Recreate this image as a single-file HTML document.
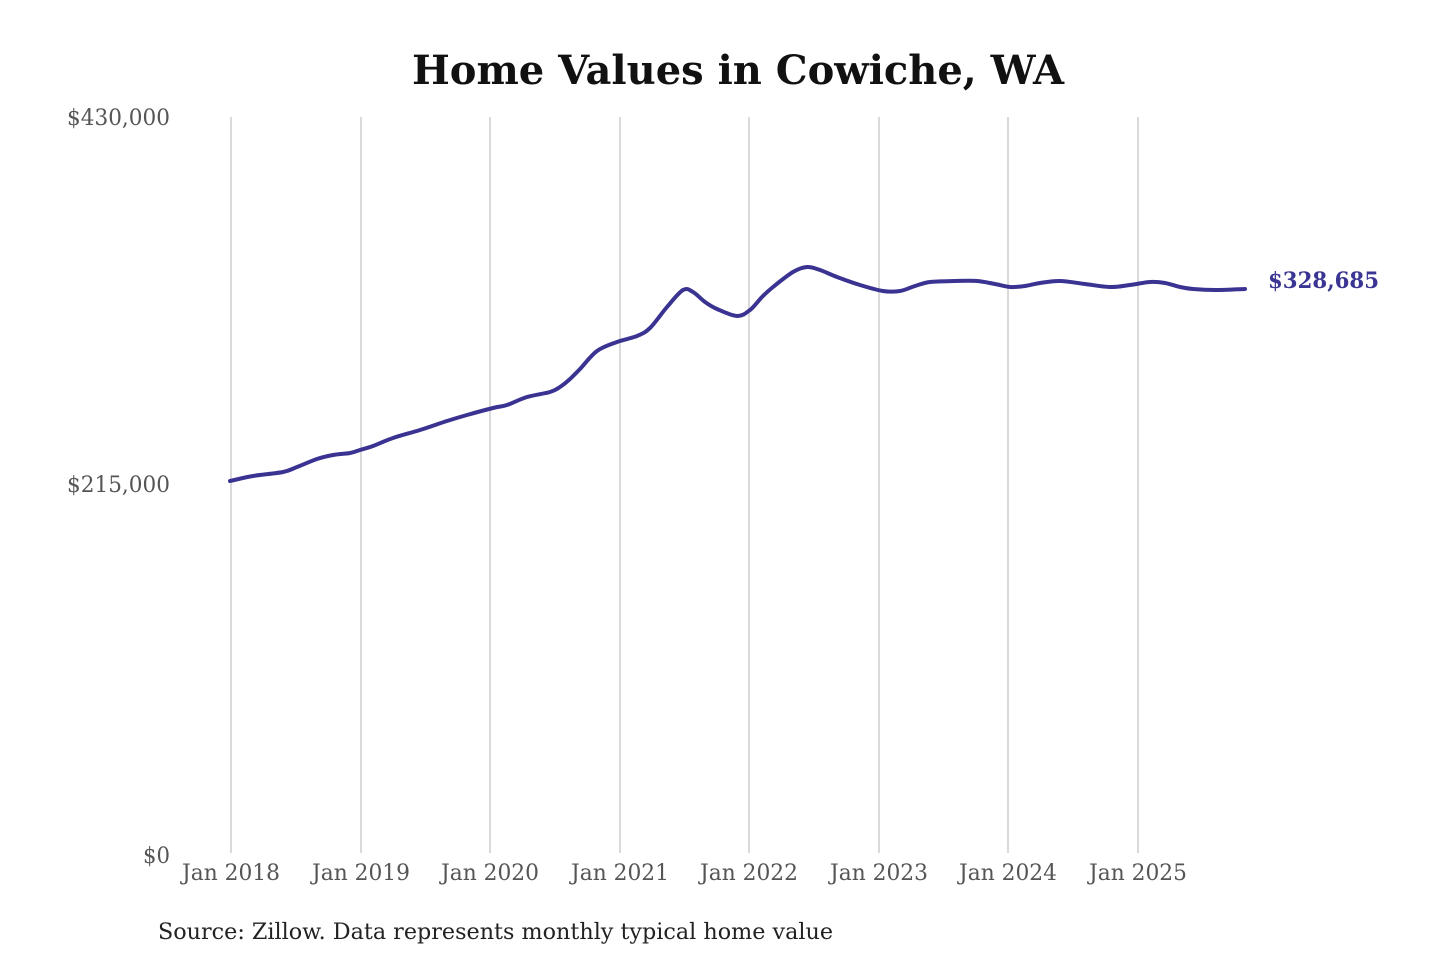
<!DOCTYPE html>
<html>
<head>
<meta charset="utf-8">
<style>
  html, body { margin:0; padding:0; background:#ffffff; }
  svg { display:block; }
</style>
</head>
<body>
<svg id="chart" width="1440" height="960" viewBox="0 0 1440 960" xmlns="http://www.w3.org/2000/svg">
  <rect width="1440" height="960" fill="#ffffff"/>
  <!-- Title -->
  <text x="738" y="84" text-anchor="middle" font-family="'DejaVu Serif', 'Liberation Serif', serif" font-weight="bold" font-size="40" fill="#111" textLength="652" lengthAdjust="spacingAndGlyphs">Home Values in Cowiche, WA</text>

  <!-- Grid lines -->
  <g stroke="#c2c2c2" stroke-width="1.2">
    <line x1="231" y1="117" x2="231" y2="853"/>
    <line x1="361" y1="117" x2="361" y2="853"/>
    <line x1="490" y1="117" x2="490" y2="853"/>
    <line x1="620" y1="117" x2="620" y2="853"/>
    <line x1="749" y1="117" x2="749" y2="853"/>
    <line x1="879" y1="117" x2="879" y2="853"/>
    <line x1="1008" y1="117" x2="1008" y2="853"/>
    <line x1="1138" y1="117" x2="1138" y2="853"/>
  </g>

  <!-- Y labels -->
  <g font-family="'DejaVu Serif', 'Liberation Serif', serif" font-size="22" fill="#555" text-anchor="end">
    <text x="170" y="125" textLength="103" lengthAdjust="spacingAndGlyphs">$430,000</text>
    <text x="170" y="492" textLength="103" lengthAdjust="spacingAndGlyphs">$215,000</text>
    <text x="170" y="863" textLength="27" lengthAdjust="spacingAndGlyphs">$0</text>
  </g>

  <!-- X labels -->
  <g font-family="'DejaVu Serif', 'Liberation Serif', serif" font-size="22" fill="#555" text-anchor="middle">
    <text x="231" y="880" textLength="98" lengthAdjust="spacingAndGlyphs">Jan 2018</text>
    <text x="361" y="880" textLength="98" lengthAdjust="spacingAndGlyphs">Jan 2019</text>
    <text x="490" y="880" textLength="98" lengthAdjust="spacingAndGlyphs">Jan 2020</text>
    <text x="620" y="880" textLength="98" lengthAdjust="spacingAndGlyphs">Jan 2021</text>
    <text x="749" y="880" textLength="98" lengthAdjust="spacingAndGlyphs">Jan 2022</text>
    <text x="879" y="880" textLength="98" lengthAdjust="spacingAndGlyphs">Jan 2023</text>
    <text x="1008" y="880" textLength="98" lengthAdjust="spacingAndGlyphs">Jan 2024</text>
    <text x="1138" y="880" textLength="98" lengthAdjust="spacingAndGlyphs">Jan 2025</text>
  </g>

  <!-- Series -->
  <polyline id="series" fill="none" stroke="#3a3392" stroke-width="4" stroke-linejoin="round" stroke-linecap="round"
    points="230,481 253,476 283,472 297,467 317,459 333,455 350,453 360,450 373,446 393,438 420,430 447,421 467,415 493,408 507,405 527,397 550,392 560,387 570,379 580,369 597,351 617,342 637,336 650,328 667,307 683,290 693,292 705,302 717,309 737,316 750,310 762,297 773,287 793,272 807,267 820,270 837,277 860,285 883,291 900,291 915,286 930,282 955,281 977,281 995,284 1010,287 1025,286 1040,283 1060,281 1085,284 1110,287 1130,285 1150,282 1165,283 1180,287 1193,289 1215,290 1245,289"/>

  <!-- End value label -->
  <text x="1268" y="288" font-family="'DejaVu Serif', 'Liberation Serif', serif" font-weight="bold" font-size="22" fill="#3a3592" textLength="111" lengthAdjust="spacingAndGlyphs">$328,685</text>

  <!-- Source -->
  <text x="158" y="939" font-family="'DejaVu Serif', 'Liberation Serif', serif" font-size="22" fill="#222" textLength="675" lengthAdjust="spacingAndGlyphs">Source: Zillow. Data represents monthly typical home value</text>
</svg>
<script>
(function(){
  var pl = document.getElementById('series');
  var raw = pl.getAttribute('points').trim().split(/\s+/).map(function(s){var a=s.split(',');return [parseFloat(a[0]),parseFloat(a[1])];});
  var d = 'M' + raw[0][0] + ',' + raw[0][1];
  for (var i=0;i<raw.length-1;i++){
    var p0 = raw[i-1]||raw[i], p1 = raw[i], p2 = raw[i+1], p3 = raw[i+2]||raw[i+1];
    var t = 6;
    var c1x = p1[0] + (p2[0]-p0[0])/t, c1y = p1[1] + (p2[1]-p0[1])/t;
    var c2x = p2[0] - (p3[0]-p1[0])/t, c2y = p2[1] - (p3[1]-p1[1])/t;
    d += ' C' + c1x.toFixed(2) + ',' + c1y.toFixed(2) + ' ' + c2x.toFixed(2) + ',' + c2y.toFixed(2) + ' ' + p2[0] + ',' + p2[1];
  }
  var path = document.createElementNS('http://www.w3.org/2000/svg','path');
  path.setAttribute('d', d);
  path.setAttribute('fill','none');
  path.setAttribute('stroke','#3a3392');
  path.setAttribute('stroke-width','4');
  path.setAttribute('stroke-linejoin','round');
  path.setAttribute('stroke-linecap','round');
  pl.parentNode.replaceChild(path, pl);
})();
</script>
</body>
</html>
